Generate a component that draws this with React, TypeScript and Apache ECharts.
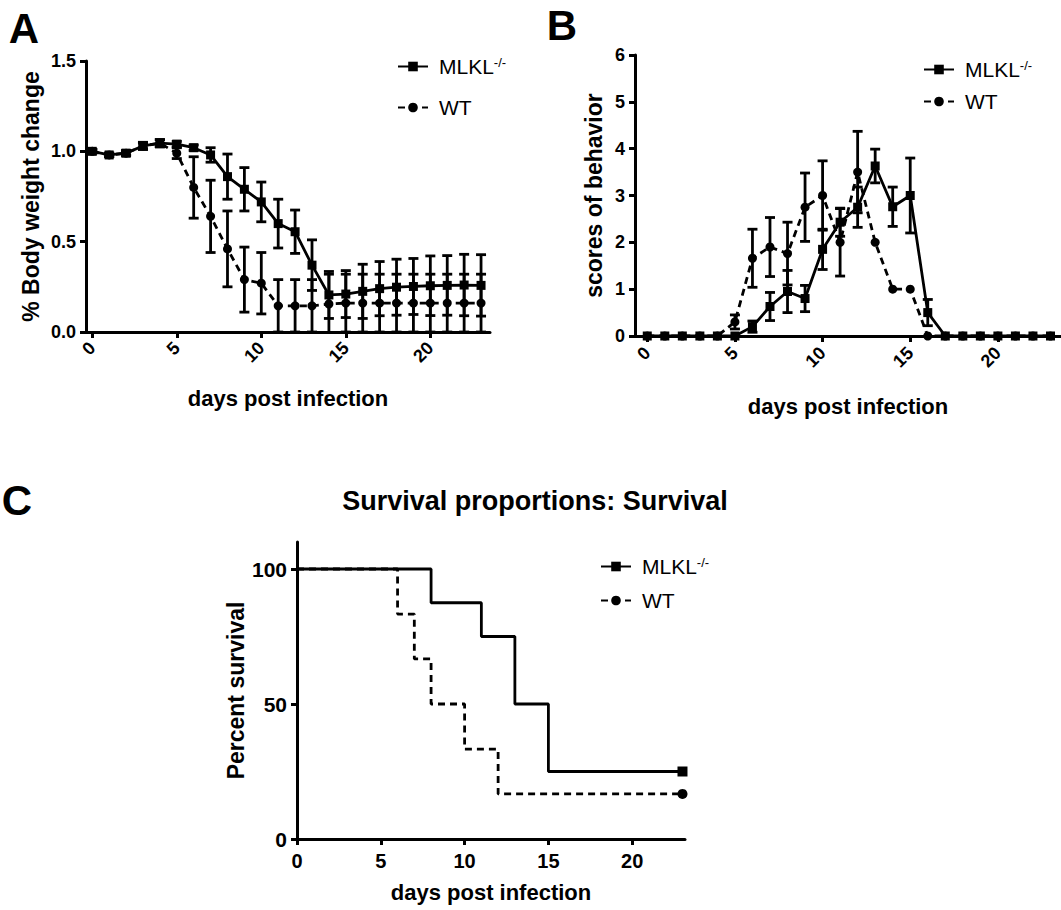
import React, { useEffect, useRef } from "react";
import * as echarts from "echarts";

const FONT = '"Liberation Sans", Arial, sans-serif';

// Panel A: % body weight change
const days = [0, 1, 2, 3, 4, 5, 6, 7, 8, 9, 10, 11, 12, 13, 14, 15, 16, 17, 18, 19, 20, 21, 22, 23];
const weightMLKL = [1.0, 0.98, 0.99, 1.03, 1.045, 1.04, 1.02, 0.98, 0.86, 0.79, 0.72, 0.6, 0.555, 0.37, 0.205, 0.21, 0.225, 0.24, 0.248, 0.252, 0.256, 0.258, 0.26, 0.258];
const weightMLKLErr = [0.01, 0.01, 0.015, 0.015, 0.02, 0.015, 0.015, 0.04, 0.125, 0.12, 0.11, 0.135, 0.12, 0.14, 0.13, 0.13, 0.15, 0.15, 0.155, 0.155, 0.165, 0.165, 0.17, 0.17];
const weightWT = [1.0, 0.98, 0.99, 1.03, 1.045, 0.99, 0.8, 0.64, 0.46, 0.29, 0.27, 0.145, 0.145, 0.145, 0.155, 0.16, 0.16, 0.16, 0.16, 0.16, 0.16, 0.16, 0.16, 0.16];
const weightWTErr = [0.01, 0.01, 0.01, 0.02, 0.02, 0.03, 0.17, 0.2, 0.21, 0.18, 0.17, 0.145, 0.145, 0.145, 0.165, 0.16, 0.16, 0.16, 0.16, 0.16, 0.16, 0.16, 0.16, 0.16];

// Panel B: scores of behavior
const scoreMLKL = [0, 0, 0, 0, 0, 0, 0.2, 0.63, 0.95, 0.8, 1.85, 2.43, 2.75, 3.63, 2.76, 3.0, 0.5, 0, 0, 0, 0, 0, 0, 0];
const scoreMLKLErr = [0, 0, 0, 0, 0, 0, 0.12, 0.3, 0.45, 0.28, 0.43, 0.3, 0.43, 0.36, 0.42, 0.8, 0.28, 0, 0, 0, 0, 0, 0, 0];
const scoreWT = [0, 0, 0, 0, 0, 0.3, 1.66, 1.9, 1.76, 2.75, 3.0, 2.0, 3.5, 2.0, 1.0, 1.0, 0, 0, 0, 0, 0, 0, 0, 0];
const scoreWTErr = [0, 0, 0, 0, 0, 0.15, 0.62, 0.63, 0.67, 0.73, 0.74, 0.72, 0.87, 0, 0, 0, 0, 0, 0, 0, 0, 0, 0, 0];

// Panel C: survival
const survMLKLDays = [0, 8, 11, 13, 15, 23];
const survMLKL = [100, 87.5, 75, 50, 25, 25];
const survWTDays = [0, 6, 7, 8, 10, 12, 23];
const survWT = [100, 83.3, 66.7, 50, 33.3, 16.7, 16.7];

const xTicks = [0, 5, 10, 15, 20];
const seriesNames = ["MLKL", "WT"];

const BLACK = "#000";
const DASH = [7, 5];

function errData(vals: number[], errs: number[]) {
  const out: number[][] = [];
  days.forEach((d, i) => {
    if (errs[i] > 0) out.push([d, vals[i] - errs[i], vals[i] + errs[i]]);
  });
  return out;
}

function errorBarSeries(xi: number, data: number[][]) {
  return {
    type: "custom",
    xAxisIndex: xi,
    yAxisIndex: xi,
    clip: true,
    z: 1,
    encode: { x: 0, y: [1, 2] },
    data,
    renderItem: (params: any, api: any) => {
      const x = api.value(0);
      const lo = api.value(1);
      const hi = api.value(2);
      const pHi = api.coord([x, hi]);
      const pLo = api.coord([x, lo]);
      const w = 5;
      const st = { stroke: BLACK, lineWidth: 2.8 };
      return {
        type: "group",
        children: [
          { type: "line", shape: { x1: pHi[0], y1: pHi[1], x2: pLo[0], y2: pLo[1] }, style: st },
          { type: "line", shape: { x1: pHi[0] - w, y1: pHi[1], x2: pHi[0] + w, y2: pHi[1] }, style: st },
          { type: "line", shape: { x1: pLo[0] - w, y1: pLo[1], x2: pLo[0] + w, y2: pLo[1] }, style: st },
        ],
      };
    },
  };
}

function lineSeries(name: string, xi: number, xs: number[], ys: number[], dashed: boolean) {
  return {
    type: "line",
    name,
    xAxisIndex: xi,
    yAxisIndex: xi,
    data: xs.map((d, i) => [d, ys[i]]),
    symbol: dashed ? "circle" : "rect",
    symbolSize: 9,
    showAllSymbol: true,
    z: 3,
    itemStyle: { color: BLACK },
    lineStyle: { color: BLACK, width: 2.8, type: dashed ? DASH : "solid" },
  };
}

function survivalSeries(name: string, xs: number[], ys: number[], dashed: boolean) {
  const last = xs.length - 1;
  return {
    type: "line",
    name,
    xAxisIndex: 2,
    yAxisIndex: 2,
    step: "end",
    data: xs.map((d, i) =>
      i === last
        ? { value: [d, ys[i]], symbol: dashed ? "circle" : "rect", symbolSize: 10 }
        : { value: [d, ys[i]], symbol: "none" }
    ),
    symbol: "none",
    z: 3,
    itemStyle: { color: BLACK },
    lineStyle: { color: BLACK, width: 2.8, type: dashed ? DASH : "solid" },
  };
}

const labelStyle = (size: number) => ({
  color: BLACK,
  fontFamily: FONT,
  fontWeight: "bold" as const,
  fontSize: size,
});

function xAxis(gi: number, min: number, max: number, rotate: number, nameGap: number, labelSize: number, margin: number) {
  return {
    type: "value",
    gridIndex: gi,
    min,
    max,
    name: "days post infection",
    nameLocation: "middle",
    nameGap,
    nameTextStyle: labelStyle(22),
    axisLine: { show: true, onZero: false, lineStyle: { color: BLACK, width: 3 } },
    axisTick: { show: true, customValues: xTicks, length: 6, lineStyle: { color: BLACK, width: 3 } },
    axisLabel: { ...labelStyle(labelSize), customValues: xTicks, rotate, margin },
    splitLine: { show: false },
  };
}

function yAxis(gi: number, min: number, max: number, ticks: number[], name: string, nameGap: number, labelSize: number, fmt?: (v: number) => string) {
  return {
    type: "value",
    gridIndex: gi,
    min,
    max,
    name,
    nameLocation: "middle",
    nameGap,
    nameRotate: 90,
    nameTextStyle: labelStyle(23),
    axisLine: { show: true, onZero: false, lineStyle: { color: BLACK, width: 3 } },
    axisTick: { show: true, customValues: ticks, length: 6, lineStyle: { color: BLACK, width: 3 } },
    axisLabel: { ...labelStyle(labelSize), customValues: ticks, margin: 10, formatter: fmt },
    splitLine: { show: false },
  };
}

function legend(id: string, left: number, top: number, gap: number) {
  return {
    id,
    data: seriesNames,
    orient: "vertical",
    left,
    top,
    itemWidth: 30,
    itemHeight: 12,
    itemGap: gap,
    selectedMode: false,
    formatter: (n: string) => (n === "MLKL" ? "{n|MLKL}{s|-/-}" : "{n|WT}"),
    textStyle: {
      color: BLACK,
      fontFamily: FONT,
      rich: {
        n: { fontSize: 21, fontFamily: FONT, color: BLACK, padding: [0, 0, 0, 6] },
        s: { fontSize: 13, fontFamily: FONT, color: BLACK, verticalAlign: "top" },
      },
    },
  };
}

export default function App() {
  const ref = useRef<HTMLDivElement>(null);
  useEffect(() => {
    if (!ref.current) return;
    const chart = echarts.init(ref.current, null, { renderer: "svg" });
    const option: any = {
      animation: false,
      backgroundColor: "#fff",
      textStyle: { fontFamily: FONT },
      grid: [
        { left: 86, top: 61, width: 404, height: 271, outerBoundsMode: "none" },
        { left: 635, top: 55, width: 426, height: 281, outerBoundsMode: "none" },
        { left: 297, top: 542, width: 388, height: 297, outerBoundsMode: "none" },
      ],
      xAxis: [
        xAxis(0, -0.37, 23.53, 45, 55, 18, 13),
        xAxis(1, -0.7, 23.6, 45, 59, 18, 14),
        xAxis(2, 0, 23.15, 0, 42, 20, 12),
      ],
      yAxis: [
        yAxis(0, 0, 1.5, [0, 0.5, 1, 1.5], "% Body weight change", 44, 18, (v: number) => v.toFixed(1)),
        yAxis(1, 0, 6, [0, 1, 2, 3, 4, 5, 6], "scores of behavior", 30, 18),
        yAxis(2, 0, 110, [0, 50, 100], "Percent survival", 50, 21),
      ],
      legend: [legend("la", 392, 51, 20), legend("lb", 918, 54, 11), legend("lc", 595, 551, 13)],
      title: {
        text: "Survival proportions: Survival",
        left: 530,
        top: 496,
        textAlign: "center",
        textVerticalAlign: "middle",
        textStyle: { ...labelStyle(27) },
      },
      graphic: [
        { type: "text", x: 24, y: 28, style: { text: "A", font: `bold 42px ${FONT}`, fill: BLACK, align: "center", verticalAlign: "middle" } },
        { type: "text", x: 562, y: 25, style: { text: "B", font: `bold 42px ${FONT}`, fill: BLACK, align: "center", verticalAlign: "middle" } },
        { type: "text", x: 17, y: 500, style: { text: "C", font: `bold 42px ${FONT}`, fill: BLACK, align: "center", verticalAlign: "middle" } },
      ],
      series: [
        errorBarSeries(0, errData(weightMLKL, weightMLKLErr)),
        errorBarSeries(0, errData(weightWT, weightWTErr)),
        lineSeries("MLKL", 0, days, weightMLKL, false),
        lineSeries("WT", 0, days, weightWT, true),
        errorBarSeries(1, errData(scoreMLKL, scoreMLKLErr)),
        errorBarSeries(1, errData(scoreWT, scoreWTErr)),
        lineSeries("MLKL", 1, days, scoreMLKL, false),
        lineSeries("WT", 1, days, scoreWT, true),
        survivalSeries("MLKL", survMLKLDays, survMLKL, false),
        survivalSeries("WT", survWTDays, survWT, true),
      ],
    };
    chart.setOption(option);
    return () => chart.dispose();
  }, []);
  return <div ref={ref} style={{ position: "fixed", left: 0, top: 0, width: 1061, height: 910, background: "#fff" }} />;
}
